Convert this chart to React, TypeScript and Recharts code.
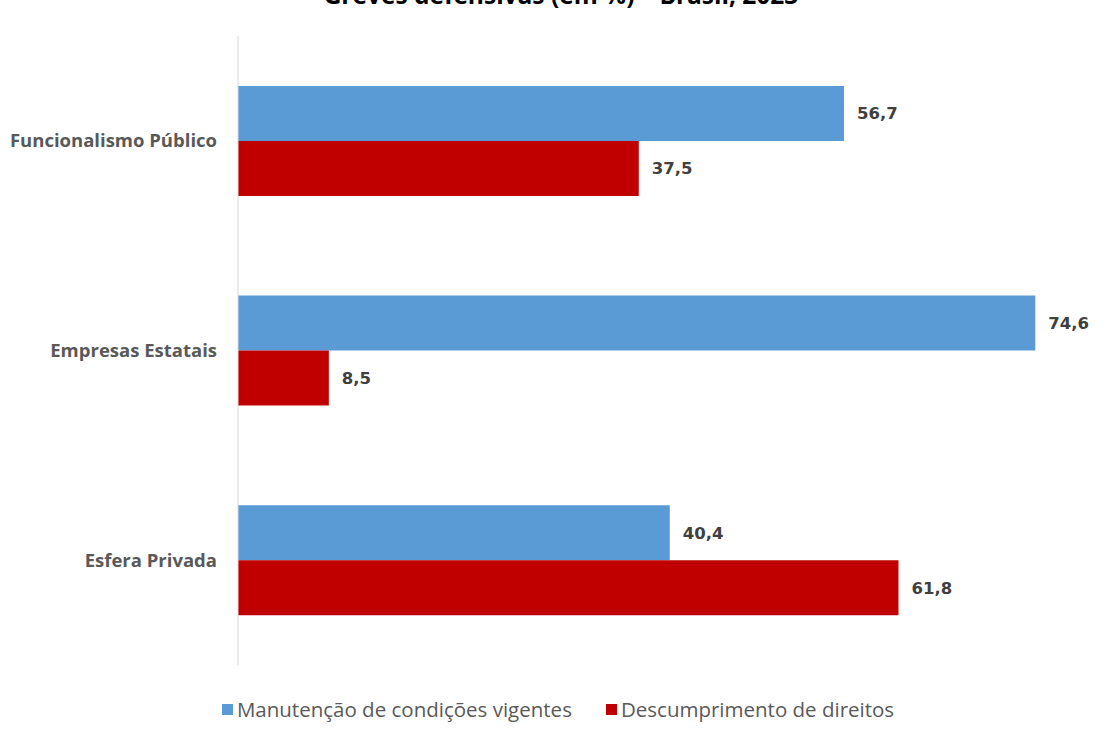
import React from "react";
import { BarChart, Bar, XAxis, YAxis, LabelList } from "recharts";

const categories = ["Funcionalismo Público", "Empresas Estatais", "Esfera Privada"];
const manutencao = [56.7, 74.6, 40.4];
const descumprimento = [37.5, 8.5, 61.8];
const seriesNames = ["Manutenção de condições vigentes", "Descumprimento de direitos"];
const colors = ["#5b9bd5", "#c00000"];

const data = categories.map((name, i) => ({
  name,
  manutencao: manutencao[i],
  descumprimento: descumprimento[i],
}));

const font = "'Open Sans', sans-serif";
const valueFont = "'DejaVu Sans', sans-serif";
const fmt = (v: number) => String(v).replace(".", ",");

const labelStyle = { fontSize: 16.5, fontWeight: 700, fill: "#404040", fontFamily: valueFont };

export default function App() {
  return (
    <div style={{ position: "absolute", left: 0, top: 0, width: 1106, height: 735, background: "#fff", fontFamily: font, overflow: "hidden" }}>
      <div
        style={{
          position: "absolute",
          top: -17,
          left: 0,
          width: 1122,
          textAlign: "center",
          fontSize: 24.5,
          lineHeight: 1,
          fontWeight: 700,
          color: "#000",
        }}
      >
        Greves defensivas (em %) – Brasil, 2023
      </div>
      <BarChart
        width={1106}
        height={735}
        data={data}
        layout="vertical"
        margin={{ top: 36, right: 13, bottom: 70, left: 0 }}
        barCategoryGap="23.8%"
        barGap={0}
      >
        <XAxis type="number" domain={[0, 80]} hide />
        <YAxis
          type="category"
          dataKey="name"
          width={238}
          tickLine={false}
          tickSize={0}
          tickMargin={21}
          axisLine={{ stroke: "#d9d9d9" }}
          tick={{ fontSize: 18.5, fontWeight: 700, fill: "#595959", fontFamily: font }}
        />
        <Bar dataKey="manutencao" fill={colors[0]} isAnimationActive={false}>
          <LabelList dataKey="manutencao" position="right" offset={13} formatter={(v: any) => fmt(v)} style={labelStyle} />
        </Bar>
        <Bar dataKey="descumprimento" fill={colors[1]} isAnimationActive={false}>
          <LabelList dataKey="descumprimento" position="right" offset={13} formatter={(v: any) => fmt(v)} style={labelStyle} />
        </Bar>
      </BarChart>
      <div
        style={{
          position: "absolute",
          top: 695,
          left: 0,
          width: 1116,
          display: "flex",
          justifyContent: "center",
          gap: 34,
          fontSize: 20.5,
          color: "#595959",
        }}
      >
        {seriesNames.map((s, i) => (
          <div key={s} style={{ display: "flex", alignItems: "center" }}>
            <span style={{ display: "inline-block", width: 11, height: 11, background: colors[i], marginRight: 4 }} />
            {s}
          </div>
        ))}
      </div>
    </div>
  );
}
